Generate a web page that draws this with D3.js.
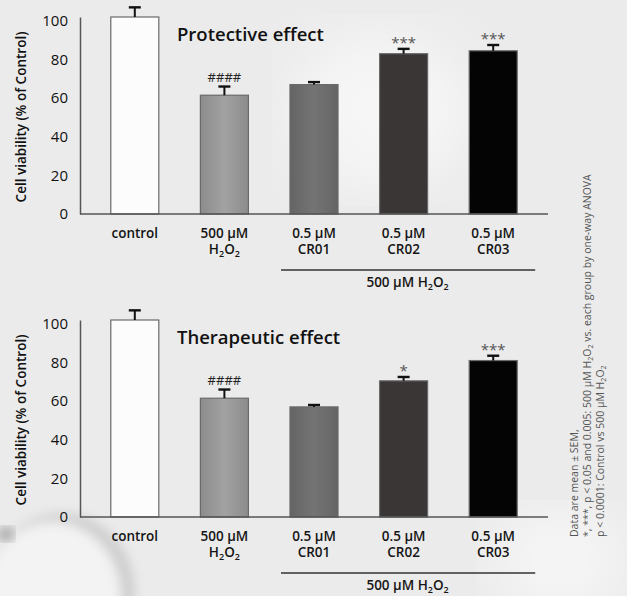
<!DOCTYPE html>
<html>
<head>
<meta charset="utf-8">
<script src="https://cdn.jsdelivr.net/npm/d3@7"></script>
<style>
  html, body { margin: 0; padding: 0; background: #ebebeb; }
  svg { display: block; font-family: "Open Sans", "Noto Sans", sans-serif; }
</style>
</head>
<body>
<div id="chart"></div>
<script>
// groups along the x axis (second line under each label)
var categories = ["control", "500 µM", "0.5 µM", "0.5 µM", "0.5 µM"];
var subLabels = ["", "H2O2", "CR01", "CR02", "CR03"];
var yTicks = [0, 20, 40, 60, 80, 100];

// protective effect panel
var protectiveMean = [102, 61.5, 67, 83, 84.5];
var protectiveSem  = [5, 4.5, 1.3, 2.5, 3];
var protectiveMarks = ["", "####", "", "***", "***"];

// therapeutic effect panel
var therapeuticMean = [102, 61.5, 57, 70.5, 81];
var therapeuticSem  = [5, 4.5, 1, 2, 2.5];
var therapeuticMarks = ["", "####", "", "*", "***"];

var width = 627, height = 596;
var panelOffset = 303;

var barFills = ['#fcfcfc', 'url(#gradH2O2)', 'url(#gradCR01)', '#393635', '#040404'];

var svg = d3.select('#chart').append('svg')
    .attr('width', width)
    .attr('height', height);

var defs = svg.append('defs');
function hGrad(id, edge, mid) {
    var g = defs.append('linearGradient').attr('id', id)
        .attr('x1', 0).attr('x2', 1).attr('y1', 0).attr('y2', 0);
    g.append('stop').attr('offset', '0%').attr('stop-color', edge);
    g.append('stop').attr('offset', '50%').attr('stop-color', mid);
    g.append('stop').attr('offset', '100%').attr('stop-color', edge);
}
hGrad('gradH2O2', '#8c8c8c', '#a2a2a2');
hGrad('gradCR01', '#646464', '#747474');
defs.append('filter').attr('id', 'blur')
    .append('feGaussianBlur').attr('stdDeviation', 6);
defs.append('filter').attr('id', 'blur2')
    .append('feGaussianBlur').attr('stdDeviation', 30);

// background
svg.append('rect').attr('width', width).attr('height', height).attr('fill', '#ebebeb');
svg.append('ellipse').attr('cx', 380).attr('cy', 110).attr('rx', 90).attr('ry', 80)
    .attr('fill', '#f6f6f6').attr('filter', 'url(#blur2)');
svg.append('ellipse').attr('cx', 560).attr('cy', 560).attr('rx', 70).attr('ry', 50)
    .attr('fill', '#f6f6f6').attr('filter', 'url(#blur2)');
svg.append('ellipse').attr('cx', 62).attr('cy', 592).attr('rx', 72).attr('ry', 78)
    .attr('fill', '#cbcbcb').attr('filter', 'url(#blur)');
svg.append('ellipse').attr('cx', 52).attr('cy', 597).attr('rx', 70).attr('ry', 76)
    .attr('fill', '#f3f3f3').attr('filter', 'url(#blur)');
svg.append('ellipse').attr('cx', 6).attr('cy', 534).attr('rx', 8).attr('ry', 7)
    .attr('fill', '#9a9a9a').attr('filter', 'url(#blur)');

var x = d3.scaleBand()
    .domain(d3.range(categories.length))
    .range([90, 538])
    .paddingInner(0.464)
    .paddingOuter(0.232);

var y = d3.scaleLinear()
    .domain([0, 102])
    .range([214, 17]);

// text with H2O2 subscripts written as tspans on one line
function chemText(sel, prefix, subSize) {
    sel.append('tspan').text(prefix + 'H');
    sel.append('tspan').attr('dy', 2.5).style('font-size', subSize).text('2');
    sel.append('tspan').attr('dy', -2.5).text('O');
    sel.append('tspan').attr('dy', 2.5).style('font-size', subSize).text('2');
}

function drawPanel(offset, title, means, sems, marks) {
    var g = svg.append('g').attr('transform', 'translate(0,' + offset + ')');

    // bars
    g.selectAll('rect.bar')
        .data(means)
        .enter()
        .append('rect')
        .attr('class', 'bar')
        .attr('x', function(d, i) { return x(i); })
        .attr('y', function(d) { return y(d); })
        .attr('width', x.bandwidth())
        .attr('height', function(d) { return y(0) - y(d); })
        .style('fill', function(d, i) { return barFills[i]; })
        .style('stroke', '#6a6a6a')
        .style('stroke-width', 1.2);

    // error bars (upper half only)
    var err = g.append('g');
    means.forEach(function(d, i) {
        var cx = x(i) + x.bandwidth() / 2;
        err.append('line')
            .attr('x1', cx).attr('x2', cx)
            .attr('y1', y(d)).attr('y2', y(d + sems[i]))
            .style('stroke', '#111').style('stroke-width', 2);
        err.append('line')
            .attr('x1', cx - 6).attr('x2', cx + 6)
            .attr('y1', y(d + sems[i])).attr('y2', y(d + sems[i]))
            .style('stroke', '#111').style('stroke-width', 2.4);
    });

    // significance marks
    g.selectAll('text.mark')
        .data(marks)
        .enter()
        .append('text')
        .attr('class', 'mark')
        .attr('x', function(d, i) { return x(i) + x.bandwidth() / 2; })
        .attr('y', function(d, i) {
            return y(means[i] + sems[i]) - (d.charAt(0) === '#' ? 5 : 1);
        })
        .attr('text-anchor', 'middle')
        .style('font-size', function(d) { return d.charAt(0) === '#' ? '13px' : '15px'; })
        .style('fill', function(d) { return d.charAt(0) === '#' ? '#222' : '#555'; })
        .text(function(d) { return d; });

    // y axis
    var yAxis = g.append('g')
        .attr('transform', 'translate(80,0)')
        .call(d3.axisLeft(y).tickValues(yTicks).tickSize(0).tickPadding(12));
    yAxis.select('.domain').style('stroke', '#555').style('stroke-width', 1.5);
    yAxis.selectAll('text')
        .style('font-size', '15px')
        .style('font-family', '"Open Sans", sans-serif')
        .style('fill', '#111');

    // x axis line
    g.append('line')
        .attr('x1', 80).attr('x2', 548)
        .attr('y1', y(0)).attr('y2', y(0))
        .style('stroke', '#555').style('stroke-width', 1.5);

    // category labels, first line
    g.selectAll('text.cat')
        .data(categories)
        .enter()
        .append('text')
        .attr('class', 'cat')
        .attr('x', function(d, i) { return x(i) + x.bandwidth() / 2; })
        .attr('y', y(0) + 24)
        .attr('text-anchor', 'middle')
        .style('font-size', '13.5px')
        .style('font-weight', 600)
        .style('fill', '#151515')
        .text(function(d) { return d; });

    // category labels, second line
    g.selectAll('text.sub')
        .data(subLabels.filter(function(s) { return s; }))
        .enter()
        .append('text')
        .attr('class', 'sub')
        .attr('x', function(d) { return x(subLabels.indexOf(d)) + x.bandwidth() / 2; })
        .attr('y', y(0) + 40)
        .attr('text-anchor', 'middle')
        .style('font-size', '13.5px')
        .style('font-weight', 600)
        .style('fill', '#151515')
        .each(function(d) {
            if (d === 'H2O2') chemText(d3.select(this), '', '9px');
            else d3.select(this).text(d);
        });

    // bracket under treated groups
    g.append('line')
        .attr('x1', x(2) - 9).attr('x2', x(4) + x.bandwidth() + 18)
        .attr('y1', y(0) + 56).attr('y2', y(0) + 56)
        .style('stroke', '#333').style('stroke-width', 1.3);
    var br = g.append('text')
        .attr('x', x(3) + x.bandwidth() / 2 + 4)
        .attr('y', y(0) + 73)
        .attr('text-anchor', 'middle')
        .style('font-size', '13.5px')
        .style('font-weight', 600)
        .style('fill', '#151515');
    chemText(br, '500 µM ', '9px');

    // panel title
    g.append('text')
        .attr('x', 177)
        .attr('y', 41)
        .style('font-size', '18.5px')
        .style('font-weight', 600)
        .style('fill', '#111')
        .text(title);

    // y axis title
    g.append('text')
        .attr('transform', 'translate(26,117) rotate(-90)')
        .attr('text-anchor', 'middle')
        .style('font-size', '13.5px')
        .style('font-weight', 600)
        .style('fill', '#111')
        .text('Cell viability (% of Control)');
}

drawPanel(0, 'Protective effect', protectiveMean, protectiveSem, protectiveMarks);
drawPanel(panelOffset, 'Therapeutic effect', therapeuticMean, therapeuticSem, therapeuticMarks);

// footnote, rotated on the right
var note = svg.append('g')
    .style('font-size', '10.5px')
    .style('fill', '#555');
function noteLine(xPos, parts) {
    var t = note.append('text')
        .attr('transform', 'translate(' + xPos + ',537) rotate(-90)');
    parts.forEach(function(p) {
        var s = t.append('tspan').text(p[0]);
        if (p[1]) s.attr('dy', p[1]);
        if (p[2]) s.style('font-size', p[2]);
    });
}
noteLine(578, [['Data are mean ± SEM,']]);
noteLine(591, [['*, ***, p < 0.05 and 0.005: 500 µM H'], ['2', 2, '7px'], ['O', -2], ['2', 2, '7px'], [' vs. each group by one-way ANOVA', -2]]);
noteLine(604, [['p < 0.0001: Control vs 500 µM H'], ['2', 2, '7px'], ['O', -2], ['2', 2, '7px']]);
</script>
</body>
</html>
